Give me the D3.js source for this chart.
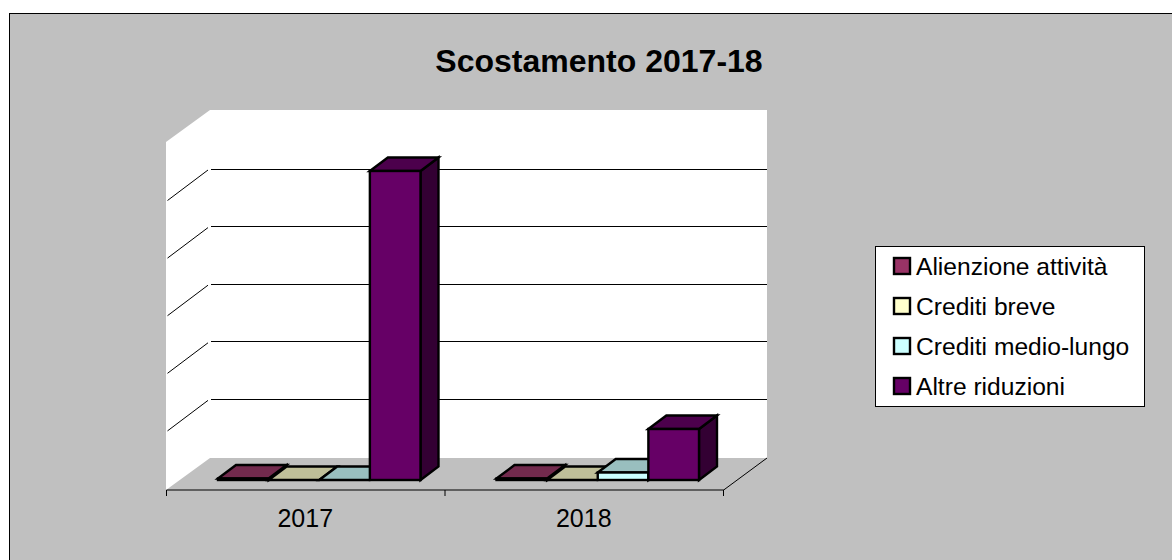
<!DOCTYPE html>
<html>
<head>
<meta charset="utf-8">
<script src="https://cdn.jsdelivr.net/npm/d3@7"></script>
<style>
html,body{margin:0;padding:0;background:#fff;overflow:hidden}
svg{display:block}
text{font-family:"Liberation Sans",Arial,sans-serif;fill:#000}
</style>
</head>
<body>
<svg id="chart" width="1172" height="560"></svg>
<script>
// Chart content
const chartTitle = "Scostamento 2017-18";
const years = ["2017", "2018"];
const seriesNames = ["Alienzione attività", "Crediti breve", "Crediti medio-lungo", "Altre riduzioni"];
const values2017 = [25, 0, 0, 5365];
const values2018 = [25, 0, 130, 885];
const gridValues = [1000, 2000, 3000, 4000, 5000];

// Face colours of each series
const frontColors = ["#993366", "#ffffcc", "#ccffff", "#660066"];
const topColors = ["#722a4d", "#bfbf99", "#99bfbf", "#4c004c"];
const sideColors = ["#4c1933", "#80805f", "#5f8080", "#330033"];

const svg = d3.select("#chart");

// Oblique projection of the floor and of the bars standing on it
const floor = {left: 166, right: 723, front: 490, dx: 44, dy: 32};
const barInset = {dx: 14, dy: 10};
const barDepth = {dx: 18, dy: 13.5};
const wallTop = 110;

const x0 = d3.scaleBand().domain(years).range([floor.left, floor.right]);
const x1 = d3.scaleBand().domain(seriesNames).range([38, x0.bandwidth() - 38]);
const backBase = floor.front - floor.dy;
const y = d3.scaleLinear().domain([0, 6000]).range([457.5, 111.9]);
const barLength = v => y(0) - y(v);

// Chart area
svg.append("rect")
  .attr("x", 9.5).attr("y", 13.5).attr("width", 1180).attr("height", 560)
  .attr("fill", "#c0c0c0").attr("stroke", "#000").attr("stroke-width", 1);

svg.append("text")
  .attr("x", 599).attr("y", 72).attr("text-anchor", "middle")
  .attr("font-size", 32).attr("font-weight", "bold").text(chartTitle);

// Walls and floor
svg.append("polygon")
  .attr("points", [[floor.left, floor.front], [floor.left, wallTop + floor.dy],
    [floor.left + floor.dx, wallTop], [floor.right + floor.dx, wallTop],
    [floor.right + floor.dx, backBase], [floor.left + floor.dx, backBase]].join(" "))
  .attr("fill", "#fff");

// Gridlines on the back wall and their diagonals on the side wall
svg.append("g").selectAll("line").data(gridValues).join("line")
  .attr("x1", floor.left + floor.dx + 1).attr("x2", floor.right + floor.dx)
  .attr("y1", d => Math.round(y(d)) - 0.5).attr("y2", d => Math.round(y(d)) - 0.5)
  .attr("stroke", "#000").attr("stroke-width", 1);
svg.append("g").selectAll("line").data(gridValues).join("line")
  .attr("x1", floor.left + 1.5).attr("x2", floor.left + floor.dx - 2)
  .attr("y1", d => y(d) + floor.dy - 1).attr("y2", d => y(d) + 0.5)
  .attr("stroke", "#000").attr("stroke-width", 1);

// Floor edges and category axis
svg.append("path")
  .attr("d", `M${floor.right},${floor.front + 0.5}L${floor.right + floor.dx},${backBase}`)
  .attr("fill", "none").attr("stroke", "#000");
const axis = d3.axisBottom(x0).tickSize(0).tickPadding(19.5);
const axisG = svg.append("g").attr("transform", `translate(0,${floor.front - 0.5})`).call(axis);
axisG.select(".domain").attr("stroke", "#000").attr("stroke-width", 1);
axisG.selectAll("text").attr("font-size", 25).attr("font-family", '"Liberation Sans",Arial,sans-serif').attr("fill", "#000");
const edgeTicks = [floor.left, x0(years[1]), floor.right];
svg.append("g").selectAll("line").data(edgeTicks).join("line")
  .attr("x1", d => d + 0.5).attr("x2", d => d + 0.5)
  .attr("y1", floor.front).attr("y2", floor.front + 6)
  .attr("stroke", "#000");

// Bars: one front, top and side face per value
const rows = years.map((yr, i) => ({yr, vals: i === 0 ? values2017 : values2018}));
const barData = rows.flatMap(r => r.vals.map((v, s) => ({yr: r.yr, v, s})));
const barBase = floor.front - barInset.dy;
const barG = svg.append("g").selectAll("g").data(barData).join("g")
  .attr("stroke", "#000").attr("stroke-width", 2.4).attr("stroke-linejoin", "miter");
const left = d => x0(d.yr) + x1(seriesNames[d.s]) + barInset.dx;
const w = x1.bandwidth();
const tops = d => barBase - barLength(d.v);
const {dx, dy} = barDepth;
barG.append("polygon").attr("fill", d => sideColors[d.s])
  .attr("points", d => {
    const l = left(d) + w, t = tops(d);
    return [[l, barBase], [l, t], [l + dx, t - dy], [l + dx, barBase - dy]].join(" ");
  });
barG.append("polygon").attr("fill", d => topColors[d.s])
  .attr("points", d => {
    const l = left(d), t = tops(d);
    return [[l, t], [l + dx, t - dy], [l + w + dx, t - dy], [l + w, t]].join(" ");
  });
barG.append("rect").attr("fill", d => frontColors[d.s])
  .attr("x", left).attr("y", tops).attr("width", w).attr("height", d => barLength(d.v));

// Legend
const legend = svg.append("g");
legend.append("rect")
  .attr("x", 875.5).attr("y", 246.5).attr("width", 269).attr("height", 160)
  .attr("fill", "#fff").attr("stroke", "#000");
const legendY = d3.scalePoint().domain(seriesNames).range([266, 386]);
const item = legend.selectAll("g").data(seriesNames).join("g")
  .attr("transform", d => `translate(0,${legendY(d)})`);
item.append("rect")
  .attr("x", 894).attr("y", -8).attr("width", 16).attr("height", 16)
  .attr("fill", (d, i) => frontColors[i]).attr("stroke", "#000").attr("stroke-width", 2.4);
item.append("text").attr("x", 916).attr("y", 9).attr("font-size", 24.6).text(d => d);
</script>
</body>
</html>
